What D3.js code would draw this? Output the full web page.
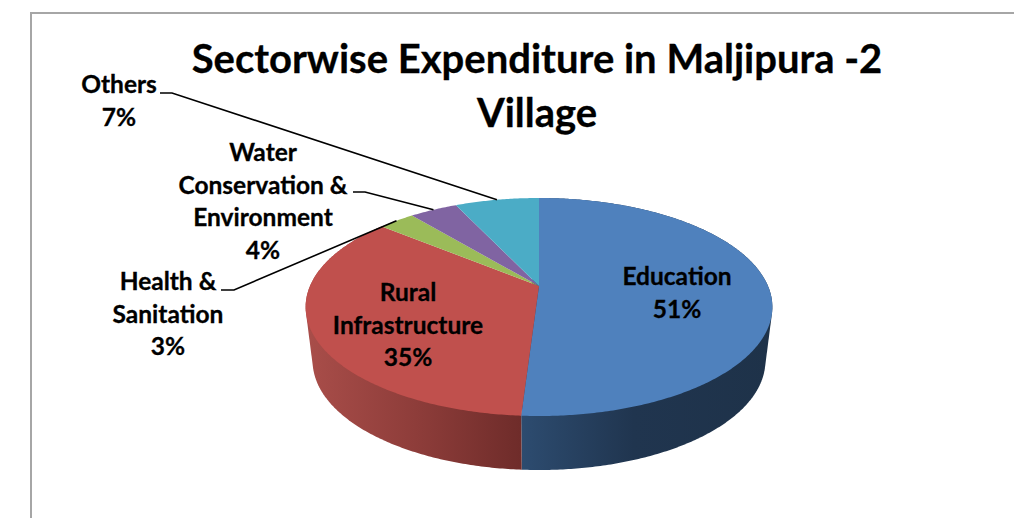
<!DOCTYPE html>
<html>
<head>
<meta charset="utf-8">
<script src="https://cdn.jsdelivr.net/npm/d3@7"></script>
<style>
    html, body { margin: 0; padding: 0; background: #fff; overflow: hidden; }
    text { font-family: Lato, "Open Sans", sans-serif; font-weight: 700; fill: #000; stroke: #000; stroke-width: 0.3px; }
</style>
</head>
<body>
<svg id="chart" width="1014" height="518"></svg>
<script>
// Chart data
const categories = ["Education", "Rural Infrastructure", "Health & Sanitation", "Water Conservation & Environment", "Others"];
const percentValues = [51, 35, 3, 4, 7];
const sliceColors = ["#4f81bd", "#c0504d", "#9bbb59", "#8064a2", "#4bacc6"];
const titleLines = ["Sectorwise Expenditure in Maljipura -2", "Village"];

const svg = d3.select("#chart");
const width = +svg.attr("width");
const height = +svg.attr("height");

// Chart frame, cut off by the right and bottom of the picture
svg.append("path")
    .attr("d", `M31,${height} V13 H${width}`)
    .attr("fill", "none")
    .attr("stroke", "#a6a6a6")
    .attr("stroke-width", 2);

// Tilted pie: a flat circle seen in perspective, so the apex sits above the ellipse centre
const pieCenter = { x: 539, y: 286 };
const tilt = { radiusX: 229, lift: -49.85, shrink: 0.1927 };
const wallDepth = 54;
const wallNarrowing = 0.97;

function project(angle) {
    const u = Math.sin(angle);
    const v = Math.cos(angle);
    const w = tilt.shrink * v + 1;
    return [pieCenter.x + tilt.radiusX * u / w, (tilt.lift * v + pieCenter.y) / w];
}

function projectLower(angle) {
    const p = project(angle);
    return [pieCenter.x + (p[0] - pieCenter.x) * wallNarrowing, p[1] + wallDepth];
}

function arcAngles(start, end) {
    const steps = Math.max(2, Math.ceil((end - start) / 0.01));
    return d3.range(steps + 1).map(i => start + (end - start) * i / steps);
}

const line = d3.line();

const slices = d3.pie().sort(null).value(d => d)(percentValues);

// Side wall gradients
const defs = svg.append("defs");
const wallShades = [
    { id: "wallBlue", x1: 520, x2: 773, stops: [["0", "#2d4c70"], ["0.45", "#20354f"], ["1", "#1e3249"]] },
    { id: "wallRed", x1: 310, x2: 520, stops: [["0", "#a84d49"], ["0.5", "#8e3d3a"], ["1", "#6f2c2a"]] }
];
wallShades.forEach(g => {
    const grad = defs.append("linearGradient")
        .attr("id", g.id)
        .attr("gradientUnits", "userSpaceOnUse")
        .attr("x1", g.x1).attr("x2", g.x2)
        .attr("y1", 0).attr("y2", 0);
    g.stops.forEach(s => grad.append("stop").attr("offset", s[0]).attr("stop-color", s[1]));
});

// Draw the walls of the two slices that reach the front. The hull keeps the outline
// smooth where the narrower lower rim meets the top rim.
svg.append("g").selectAll("path")
    .data(slices.slice(0, 2))
    .enter().append("path")
    .attr("d", d => {
        const angles = arcAngles(d.startAngle, d.endAngle);
        return line(d3.polygonHull(angles.map(project).concat(angles.map(projectLower)))) + "Z";
    })
    .attr("fill", (d, i) => `url(#${wallShades[i].id})`);

// Draw the top face
svg.append("g").selectAll("path")
    .data(slices)
    .enter().append("path")
    .attr("d", d => line([[pieCenter.x, pieCenter.y]].concat(arcAngles(d.startAngle, d.endAngle).map(project))) + "Z")
    .attr("fill", (d, i) => sliceColors[i]);

// Add chart title
svg.append("g").selectAll("text")
    .data(titleLines)
    .enter().append("text")
    .attr("x", 537)
    .attr("y", (d, i) => 73 + i * 54)
    .attr("text-anchor", "middle")
    .attr("font-size", "40px")
    .text(d => d);

// Data labels, one per slice, split over lines the way the picture does it
const labelLayout = [
    { x: 677, y: 285, lines: ["Education", "51%"] },
    { x: 408, y: 301, lines: ["Rural", "Infrastructure", "35%"] },
    { x: 168, y: 290, lines: ["Health &", "Sanitation", "3%"], leaderFrom: [221, 290], elbow: [234, 290] },
    { x: 263, y: 161, lines: ["Water", "Conservation &", "Environment", "4%"], leaderFrom: [353, 192], elbow: [365, 192] },
    { x: 119, y: 93, lines: ["Others", "7%"], leaderFrom: [160, 93], elbow: [172, 93] }
];

labelLayout.forEach((label, i) => {
    svg.append("text")
        .attr("text-anchor", "middle")
        .attr("font-size", "24.5px")
        .selectAll("tspan")
        .data(label.lines)
        .enter().append("tspan")
        .attr("x", label.x)
        .attr("y", (d, j) => label.y + j * 32.5)
        .text(d => d);

    // Leader line runs to the middle of the slice's rim
    if (label.leaderFrom) {
        const mid = (slices[i].startAngle + slices[i].endAngle) / 2;
        svg.append("path")
            .attr("d", line([label.leaderFrom, label.elbow, project(mid)]))
            .attr("fill", "none")
            .attr("stroke", "#000")
            .attr("stroke-width", 1.6);
    }
});
</script>
</body>
</html>
